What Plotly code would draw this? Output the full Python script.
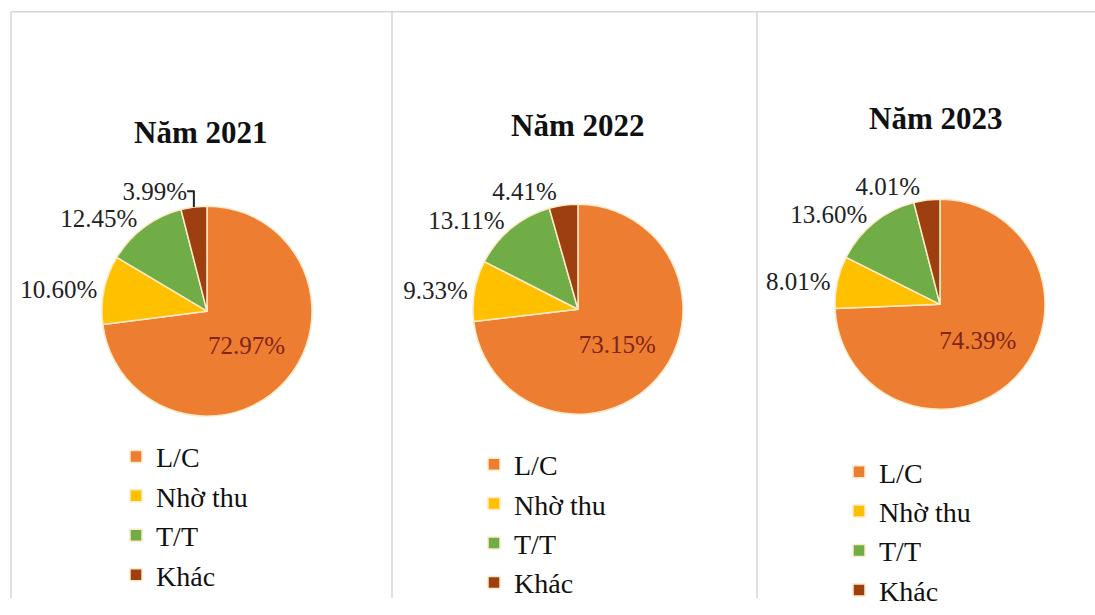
import plotly.graph_objects as go

categories = ["L/C", "Nhờ thu", "T/T", "Khác"]
years = ["Năm 2021", "Năm 2022", "Năm 2023"]
values_2021 = [72.97, 10.60, 12.45, 3.99]
values_2022 = [73.15, 9.33, 13.11, 4.41]
values_2023 = [74.39, 8.01, 13.60, 4.01]
series = [values_2021, values_2022, values_2023]

colors = ["#ED7D31", "#FFC000", "#70AD47", "#9E3F12"]
W, H = 1095, 615
FONT = "Liberation Serif, Times New Roman, serif"

# layout helpers (pixel positions converted to paper coords)
pie_centers = [(207, 320), (578, 318), (940, 313)]
pie_r = 108
title_pos = [(200, 136), (577, 129), (935, 122)]
legend_pos = [(116, 444), (474, 452), (839, 460)]

fig = go.Figure()
for i, (vals, yr) in enumerate(zip(series, years)):
    cx, cy = pie_centers[i]
    dom_x = [(cx - pie_r) / W, (cx + pie_r) / W]
    dom_y = [1 - (cy + pie_r) / H, 1 - (cy - pie_r) / H]
    lg = "legend" if i == 0 else f"legend{i+1}"
    # invisible suffix keeps each panel's legend entries distinct
    labels = [c + "\u200b" * i for c in categories]
    fig.add_trace(go.Pie(
        labels=labels, values=vals, sort=False, direction="clockwise",
        rotation=0, domain=dict(x=dom_x, y=dom_y),
        marker=dict(colors=colors, line=dict(color="#FDEBC8", width=1.5)),
        texttemplate="%{value:.2f}%",
        textposition=["inside", "outside", "outside", "outside"],
        insidetextorientation="horizontal",
        textfont=dict(family=FONT, size=25),
        insidetextfont=dict(family=FONT, size=25, color="#7F2416"),
        outsidetextfont=dict(family=FONT, size=25, color="#222222"),
        hoverinfo="label+percent", legend=lg, showlegend=True,
    ))
    tx, ty = title_pos[i]
    fig.add_annotation(x=tx / W, y=1 - ty / H, xref="paper", yref="paper",
                       xanchor="center", yanchor="middle",
                       text=f"<b>{yr}</b>", showarrow=False,
                       font=dict(family=FONT, size=31, color="#111111"))

legends = {}
for i, (lx, ly) in enumerate(legend_pos):
    key = "legend" if i == 0 else f"legend{i+1}"
    legends[key] = dict(x=lx / W, y=1 - ly / H, xanchor="left", yanchor="top",
                        font=dict(family=FONT, size=28, color="#111111"),
                        bgcolor="rgba(0,0,0,0)", tracegroupgap=0,
                        itemwidth=30)

shapes = []
line_style = dict(color="#D6D6D6", width=1.5)
shapes.append(dict(type="line", xref="paper", yref="paper",
                   x0=11 / W, x1=1, y0=1 - 12 / H, y1=1 - 12 / H, line=line_style))
for px in [11, 392, 757]:
    shapes.append(dict(type="line", xref="paper", yref="paper",
                       x0=px / W, x1=px / W, y0=0, y1=1 - 12 / H, line=line_style))

fig.update_layout(width=W, height=H, margin=dict(l=0, r=0, t=0, b=0),
                  paper_bgcolor="white", plot_bgcolor="white",
                  font=dict(family=FONT, color="#111111"),
                  shapes=shapes, **legends)

fig.write_html("out.html")
